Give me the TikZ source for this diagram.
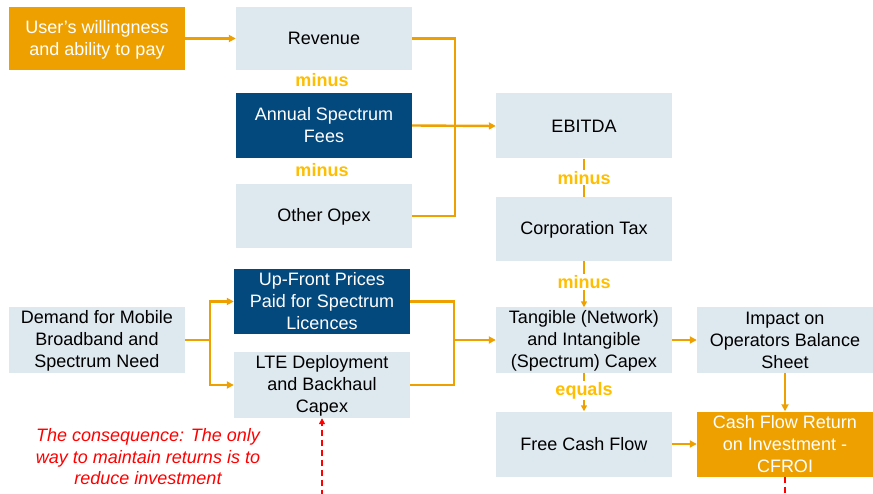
\documentclass[tikz,border=0pt]{standalone}
\usepackage{fontspec}
\setmainfont{Liberation Sans}
\usetikzlibrary{arrows.meta}
\definecolor{boxlight}{RGB}{222,232,239}
\definecolor{boxdark}{RGB}{4,73,125}
\definecolor{boxorange}{RGB}{237,160,0}
\definecolor{lineorange}{RGB}{237,160,0}
\definecolor{lblyellow}{RGB}{255,190,0}
\definecolor{redtxt}{RGB}{255,0,0}
\newcommand\lnstrut{\rule[-2.5pt]{0pt}{17.5pt}}
\tikzset{
  base/.style={minimum width=176pt, inner sep=0pt, align=center, font=\fontsize{18}{22}\selectfont},
  lightbox/.style={base, fill=boxlight, text=black},
  darkbox/.style={base, fill=boxdark, text=white},
  orangebox/.style={base, fill=boxorange, text=white},
  conn/.style={draw=lineorange, line width=2.4pt},
  arr/.style={conn, -{Triangle[length=7pt,width=7pt]}},
  vconn/.style={draw=lineorange, line width=1.8pt},
  varr/.style={vconn, -{Triangle[length=6pt,width=6pt]}},
  opslbl/.style={fill=white, text=lblyellow, font=\fontsize{18}{20}\selectfont\bfseries, inner sep=1pt},
  redarr/.style={draw=redtxt, line width=1.6pt, dash pattern=on 6pt off 4pt, -{Triangle[length=6pt,width=6pt]}}
}
\begin{document}
\begin{tikzpicture}[x=1pt,y=-1pt]
\useasboundingbox (0,0) rectangle (873,494);
% top block
\node[orangebox, minimum height=63pt] (user) at (97,38.5) {\lnstrut User's willingness\\\lnstrut and ability to pay};
\node[lightbox, minimum height=63pt] (rev) at (324,38.5) {\lnstrut Revenue};
\node[darkbox, minimum height=65pt] (fees) at (324,125.5) {\lnstrut Annual Spectrum\\\lnstrut Fees};
\node[lightbox, minimum height=64pt] (opex) at (324,216) {\lnstrut Other Opex};
\node[opslbl] (m1) at (322,80) {minus};
\node[opslbl] (m2) at (322,170) {minus};
% middle column
\node[lightbox, minimum height=65pt] (ebitda) at (584,126) {\lnstrut EBITDA};
\node[lightbox, minimum height=64pt] (tax) at (584,229) {\lnstrut Corporation Tax};
\node[lightbox, minimum height=65pt] (tang) at (584,340) {\lnstrut Tangible (Network)\\\lnstrut and Intangible\\\lnstrut (Spectrum) Capex};
\node[lightbox, minimum height=65pt] (fcf) at (584,444) {\lnstrut Free Cash Flow};
% right column
\node[lightbox, minimum height=66pt] (impact) at (785,340) {\lnstrut Impact on\\\lnstrut Operators Balance\\\lnstrut Sheet};
\node[orangebox, minimum height=65pt] (cfroi) at (785,444) {\lnstrut Cash Flow Return\\\lnstrut on Investment -\\\lnstrut CFROI};
% lower left
\node[lightbox, minimum height=66pt] (demand) at (97,340) {\lnstrut Demand for Mobile\\\lnstrut Broadband and\\\lnstrut Spectrum Need};
\node[darkbox, minimum height=65pt] (upfront) at (322,301.5) {\lnstrut Up-Front Prices\\\lnstrut Paid for Spectrum\\\lnstrut Licences};
\node[lightbox, minimum height=66pt] (lte) at (322,385) {\lnstrut LTE Deployment\\\lnstrut and Backhaul\\\lnstrut Capex};
\node[text=redtxt, align=center, font=\fontsize{18}{21.5}\selectfont\itshape] (note) at (148,457) {The consequence: The only\\way to maintain returns is to\\reduce investment};
% connectors top
\draw[arr] (user.east) -- (rev.west);
\coordinate (j1) at (455,126);
\draw[conn] (rev.east) -| (j1) |- (opex.east);
\draw[arr] (fees.east) -- (ebitda.west);
% middle column
\draw[vconn] (ebitda.south) -- (tax.north) node[opslbl, pos=0.5] (m3) {minus};
\draw[varr] (tax.south) -- (tang.north) node[opslbl, pos=0.45] (m4) {minus};
\draw[varr] (tang.south) -- (fcf.north) node[opslbl, pos=0.47] (eq) {equals};
% lower left connectors
\coordinate (j2) at (210,340);
\draw[conn] (demand.east) -- (j2);
\draw[arr] (j2) |- (upfront.west);
\draw[arr] (j2) |- (lte.west);
\coordinate (j3) at (454,340);
\draw[conn] (upfront.east) -| (j3) |- (lte.east);
\draw[arr] (j3) -- (tang.west);
% right
\draw[arr] (tang.east) -- (impact.west);
\draw[arr] (fcf.east) -- (cfroi.west);
\draw[arr] (impact.south) -- (cfroi.north);
% red dashed loop
\begin{scope}
\clip (0,0) rectangle (873,494);
\coordinate (lowpt) at (785,530);
\draw[redarr] (cfroi.south) -- (lowpt) -| (lte.south);
\end{scope}
\end{tikzpicture}
\end{document}
